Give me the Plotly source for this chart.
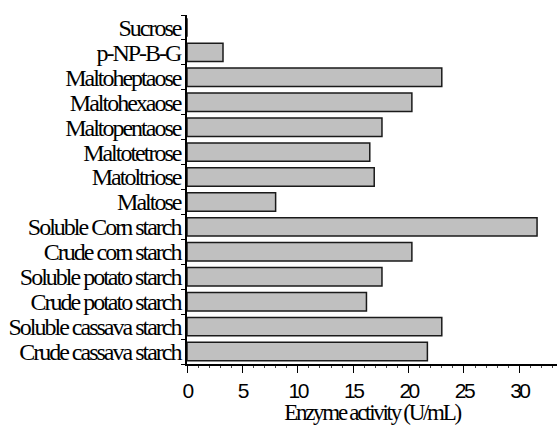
import plotly.graph_objects as go

# Substrates, listed from bottom to top of the chart
substrates = [
    "Crude cassava starch",
    "Soluble cassava starch",
    "Crude potato starch",
    "Soluble potato starch",
    "Crude corn starch",
    "Soluble Corn starch",
    "Maltose",
    "Matoltriose",
    "Maltotetrose",
    "Maltopentaose",
    "Maltohexaose",
    "Maltoheptaose",
    "p-NP-B-G",
    "Sucrose",
]
# Enzyme activity (U/mL) for each substrate
activity = [21.7, 23.0, 16.2, 17.6, 20.3, 31.6, 8.0, 16.9, 16.5, 17.6, 20.3, 23.0, 3.25, 0.0]

x_ticks = [0, 5, 10, 15, 20, 25, 30]

fig = go.Figure(
    go.Bar(
        x=activity,
        y=substrates,
        orientation="h",
        width=0.74,
        marker=dict(color="#c0c0c0", line=dict(color="#1a1a1a", width=1.5)),
        hoverinfo="x+y",
    )
)

fig.update_layout(
    width=557,
    height=425,
    margin=dict(l=187, r=0, t=15, b=61, autoexpand=False),
    paper_bgcolor="white",
    plot_bgcolor="white",
    showlegend=False,
)

fig.update_xaxes(
    range=[0, 33.4],
    tickmode="array",
    tickvals=x_ticks,
    ticks="outside",
    ticklen=7,
    tickwidth=1.3,
    tickcolor="black",
    showline=True,
    linecolor="black",
    linewidth=1.5,
    showgrid=False,
    zeroline=False,
    automargin=False,
    tickfont=dict(family="Liberation Sans, Arial", size=21, color="black"),
    minor=dict(dtick=1, ticks="outside", ticklen=2, tickwidth=1, tickcolor="#444"),
    title=dict(
        text="Enzyme activity (U/mL)",
        font=dict(family="Liberation Serif, Times New Roman", size=23, color="black"),
        standoff=0,
    ),
)

fig.update_yaxes(
    type="category",
    categoryorder="array",
    categoryarray=substrates,
    tickmode="array",
    tickvals=substrates,
    range=[-0.5, len(substrates) - 0.5],
    tickson="boundaries",
    ticks="outside",
    ticklen=4,
    tickwidth=1.3,
    tickcolor="black",
    showline=True,
    linecolor="black",
    linewidth=1.5,
    showgrid=False,
    automargin=False,
    tickfont=dict(family="Liberation Serif, Times New Roman", size=24, color="black"),
)

# Tighten letter spacing of the labels for a condensed look
squeeze_js = """
var gd = document.getElementById('{plot_id}');
function squeeze() {
  gd.querySelectorAll('.ytick text').forEach(function (t) { t.style.letterSpacing = '-2px'; });
  gd.querySelectorAll('.xtick text').forEach(function (t) { t.style.letterSpacing = '-2.5px'; });
  gd.querySelectorAll('.g-xtitle text').forEach(function (t) { t.style.letterSpacing = '-2.3px'; });
}
squeeze();
gd.on('plotly_afterplot', squeeze);
"""

fig.write_html("out.html", post_script=squeeze_js)
